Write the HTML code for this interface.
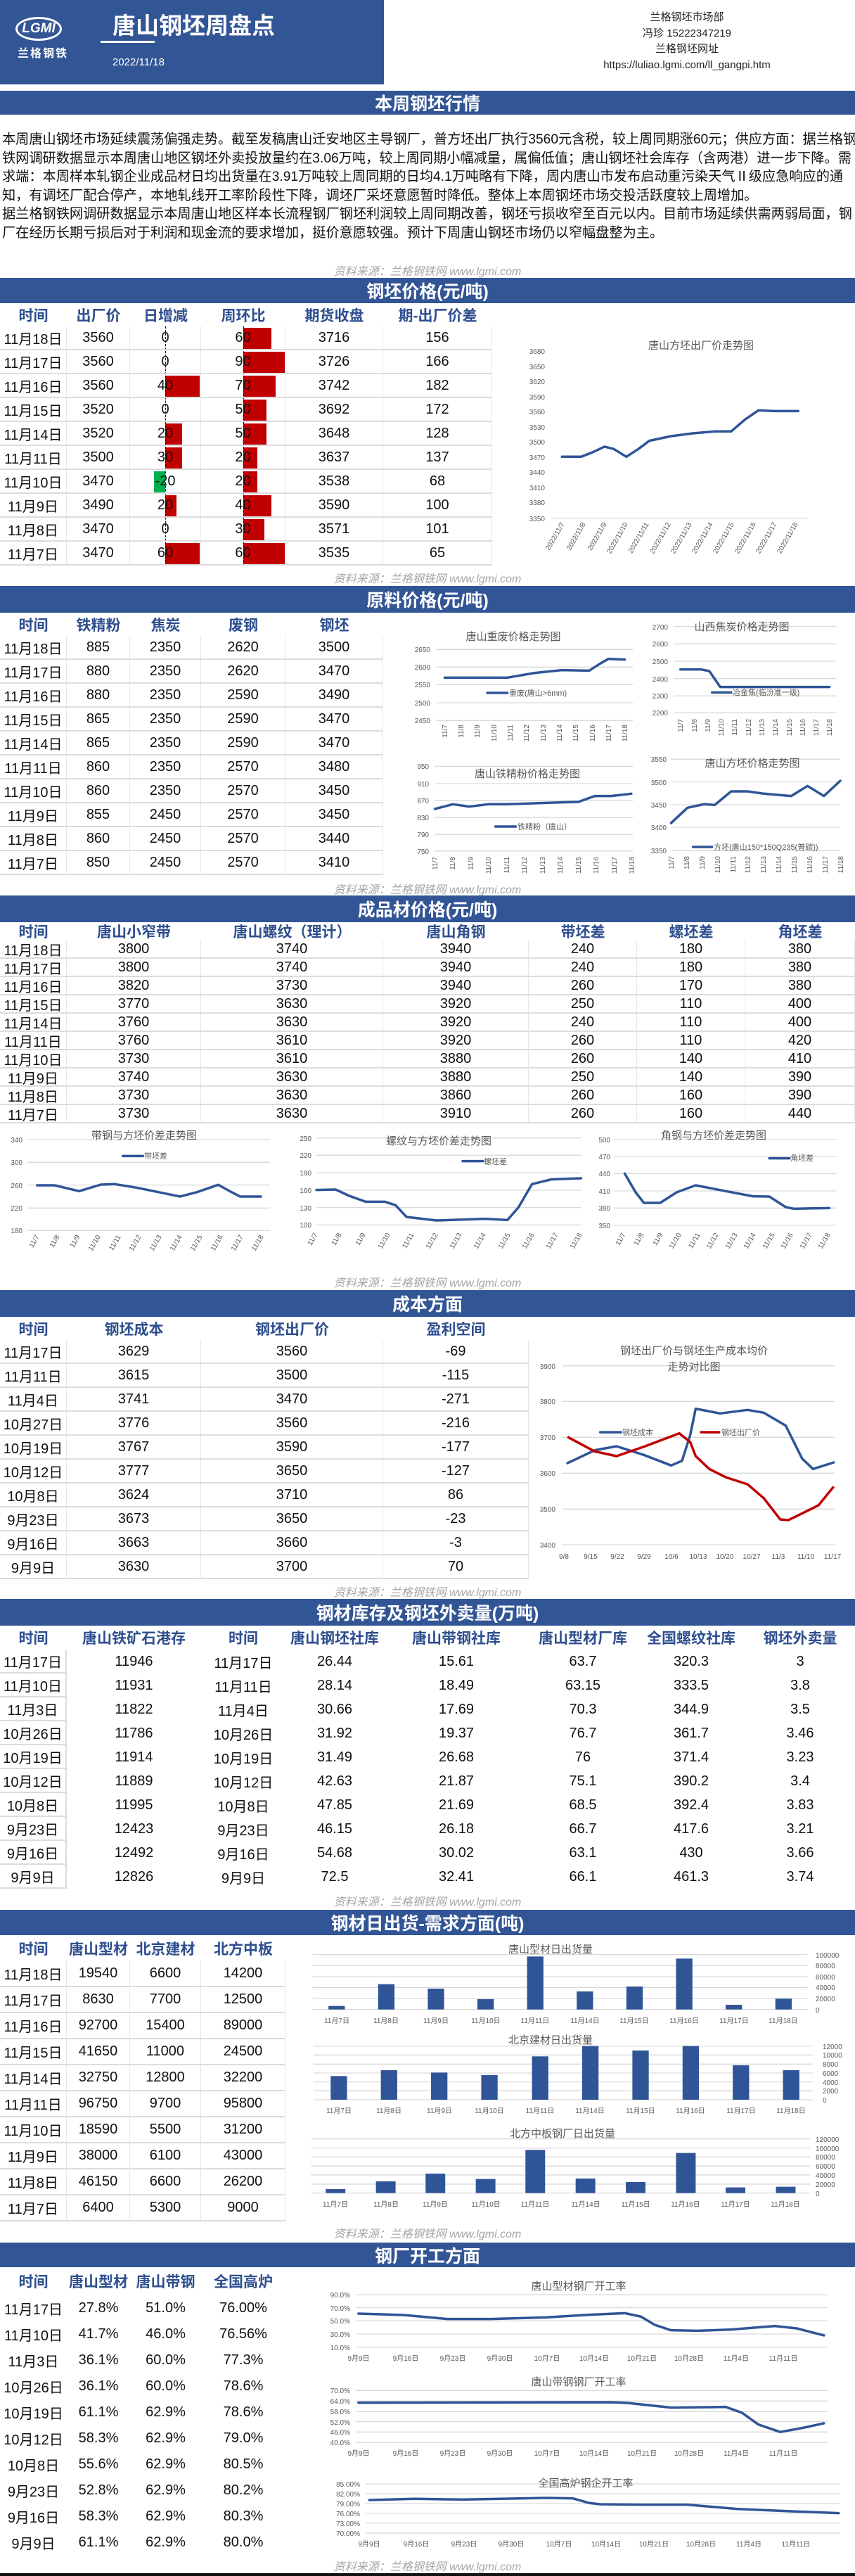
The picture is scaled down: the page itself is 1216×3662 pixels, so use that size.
<!DOCTYPE html>
<html><head><meta charset="utf-8">
<style>
*{margin:0;padding:0;box-sizing:border-box}
body{width:1216px;height:3662px;position:relative;background:#fff;font-family:"Liberation Sans","Noto Sans CJK SC",sans-serif;overflow:hidden}
.abs{position:absolute}
.bar{position:absolute;left:0;width:1216px;background:#325595;color:#fff;font-weight:bold;font-size:25px;display:flex;align-items:center;justify-content:center}
.src{position:absolute;left:0;width:1216px;text-align:center;color:#a6a6a6;font-size:16px;font-style:italic}
.t{position:absolute;display:grid}
.t div{display:flex;align-items:center;justify-content:center;font-size:20px;color:#111;white-space:nowrap}
.t div.h{color:#2F4F8F;font-weight:bold;font-size:21px}
.g div:not(.h){border-bottom:2px solid #dcdcdc;border-right:1px solid #e6e6e6}
.k div.c1{border-bottom:2px solid #dcdcdc;border-right:2px solid #dcdcdc}
.db{position:absolute;height:30px;background:#c00000}
.para{position:absolute;left:3px;top:186px;font-size:19.2px;line-height:26.6px;color:#111;white-space:nowrap}
svg text{font-family:"Liberation Sans","Noto Sans CJK SC",sans-serif;fill:#595959}
</style></head><body>

<!-- header -->
<div class="abs" style="left:0;top:0;width:546px;height:120px;background:#325595"></div>
<div class="abs" style="left:22px;top:24px;width:66px;height:34px;border:3px solid #fff;border-radius:50%;color:#fff;font-weight:bold;font-size:19px;display:flex;align-items:center;justify-content:center;font-style:italic">LGMI</div>
<div class="abs" style="left:25px;top:62px;color:#fff;font-size:16px;font-weight:bold;letter-spacing:2px">兰格钢铁</div>
<div class="abs" style="left:160px;top:10px;color:#fff;font-size:33px;font-weight:bold">唐山钢坯周盘点</div>
<div class="abs" style="left:143px;top:58px;width:77px;height:3px;background:#fff"></div>
<div class="abs" style="left:160px;top:80px;color:#fff;font-size:15px">2022/11/18</div>
<div class="abs" style="left:820px;top:14px;width:314px;text-align:center;color:#222;font-size:15px;line-height:22.5px">兰格钢坯市场部<br>冯珍 15222347219<br>兰格钢坯网址<br>https://luliao.lgmi.com/ll_gangpi.htm</div>

<div class="bar" style="top:129px;height:34px">本周钢坯行情</div>
<div class="para">本周唐山钢坯市场延续震荡偏强走势。截至发稿唐山迁安地区主导钢厂，普方坯出厂执行3560元含税，较上周同期涨60元；供应方面：据兰格钢<br>铁网调研数据显示本周唐山地区钢坯外卖投放量约在3.06万吨，较上周同期小幅减量，属偏低值；唐山钢坯社会库存（含两港）进一步下降。需<br>求端：本周样本轧钢企业成品材日均出货量在3.91万吨较上周同期的日均4.1万吨略有下降，周内唐山市发布启动重污染天气Ⅱ级应急响应的通<br>知，有调坯厂配合停产，本地轧线开工率阶段性下降，调坯厂采坯意愿暂时降低。整体上本周钢坯市场交投活跃度较上周增加。<br>据兰格钢铁网调研数据显示本周唐山地区样本长流程钢厂钢坯利润较上周同期改善，钢坯亏损收窄至百元以内。目前市场延续供需两弱局面，钢<br>厂在经历长期亏损后对于利润和现金流的要求增加，挺价意愿较强。预计下周唐山钢坯市场仍以窄幅盘整为主。</div>
<div class="src" style="top:372px">资料来源：兰格钢铁网 www.lgmi.com</div>

<!-- 钢坯价格 -->
<div class="bar" style="top:395px;height:36px">钢坯价格(元/吨)</div>
<div class="db" style="left:235px;top:534px;width:49px"></div>
<div class="db" style="left:235px;top:602px;width:24px"></div>
<div class="db" style="left:235px;top:636px;width:24px"></div>
<div class="db" style="left:219px;top:670px;width:16px;background:#00b050"></div>
<div class="db" style="left:235px;top:704px;width:16px"></div>
<div class="db" style="left:235px;top:772px;width:49px"></div>
<div class="db" style="left:346px;top:466px;width:40px"></div>
<div class="db" style="left:346px;top:500px;width:59px"></div>
<div class="db" style="left:346px;top:534px;width:46px"></div>
<div class="db" style="left:346px;top:568px;width:33px"></div>
<div class="db" style="left:346px;top:602px;width:33px"></div>
<div class="db" style="left:346px;top:636px;width:20px"></div>
<div class="db" style="left:346px;top:670px;width:20px"></div>
<div class="db" style="left:346px;top:704px;width:40px"></div>
<div class="db" style="left:346px;top:738px;width:30px"></div>
<div class="db" style="left:346px;top:772px;width:59px"></div>
<div class="abs" style="left:235px;top:464px;height:340px;border-left:1px dashed #000"></div>
<div class="abs" style="left:346px;top:464px;height:340px;border-left:1px dashed #000"></div>
<div class="t g" style="left:0;top:431px;grid-template-columns:95px 90px 101px 120px 139px 155px;grid-template-rows:33px;grid-auto-rows:34px">
<div class="h">时间</div><div class="h">出厂价</div><div class="h">日增减</div><div class="h">周环比</div><div class="h">期货收盘</div><div class="h">期-出厂价差</div>
<div>11月18日</div><div>3560</div><div>0</div><div>60</div><div>3716</div><div>156</div>
<div>11月17日</div><div>3560</div><div>0</div><div>90</div><div>3726</div><div>166</div>
<div>11月16日</div><div>3560</div><div>40</div><div>70</div><div>3742</div><div>182</div>
<div>11月15日</div><div>3520</div><div>0</div><div>50</div><div>3692</div><div>172</div>
<div>11月14日</div><div>3520</div><div>20</div><div>50</div><div>3648</div><div>128</div>
<div>11月11日</div><div>3500</div><div>30</div><div>20</div><div>3637</div><div>137</div>
<div>11月10日</div><div>3470</div><div>-20</div><div>20</div><div>3538</div><div>68</div>
<div>11月9日</div><div>3490</div><div>20</div><div>40</div><div>3590</div><div>100</div>
<div>11月8日</div><div>3470</div><div>0</div><div>30</div><div>3571</div><div>101</div>
<div>11月7日</div><div>3470</div><div>60</div><div>60</div><div>3535</div><div>65</div>
</div>
<div class="src" style="top:809px">资料来源：兰格钢铁网 www.lgmi.com</div>

<!-- 原料 -->
<div class="bar" style="top:833px;height:38px">原料价格(元/吨)</div>
<div class="t g" style="left:0;top:871px;grid-template-columns:95px 90px 101px 120px 139px;grid-template-rows:33px;grid-auto-rows:34px">
<div class="h">时间</div><div class="h">铁精粉</div><div class="h">焦炭</div><div class="h">废钢</div><div class="h">钢坯</div>
<div>11月18日</div><div>885</div><div>2350</div><div>2620</div><div>3500</div>
<div>11月17日</div><div>880</div><div>2350</div><div>2620</div><div>3470</div>
<div>11月16日</div><div>880</div><div>2350</div><div>2590</div><div>3490</div>
<div>11月15日</div><div>865</div><div>2350</div><div>2590</div><div>3470</div>
<div>11月14日</div><div>865</div><div>2350</div><div>2590</div><div>3470</div>
<div>11月11日</div><div>860</div><div>2350</div><div>2570</div><div>3480</div>
<div>11月10日</div><div>860</div><div>2350</div><div>2570</div><div>3450</div>
<div>11月9日</div><div>855</div><div>2450</div><div>2570</div><div>3450</div>
<div>11月8日</div><div>860</div><div>2450</div><div>2570</div><div>3440</div>
<div>11月7日</div><div>850</div><div>2450</div><div>2570</div><div>3410</div>
</div>
<div class="src" style="top:1251px">资料来源：兰格钢铁网 www.lgmi.com</div>

<!-- 成品材 -->
<div class="bar" style="top:1273px;height:38px">成品材价格(元/吨)</div>
<div class="t g" style="left:0;top:1311px;grid-template-columns:95px 191px 259px 207px 154px 154px 156px;grid-template-rows:26px;grid-auto-rows:26px">
<div class="h">时间</div><div class="h">唐山小窄带</div><div class="h">唐山螺纹（理计）</div><div class="h">唐山角钢</div><div class="h">带坯差</div><div class="h">螺坯差</div><div class="h">角坯差</div>
<div>11月18日</div><div>3800</div><div>3740</div><div>3940</div><div>240</div><div>180</div><div>380</div>
<div>11月17日</div><div>3800</div><div>3740</div><div>3940</div><div>240</div><div>180</div><div>380</div>
<div>11月16日</div><div>3820</div><div>3730</div><div>3940</div><div>260</div><div>170</div><div>380</div>
<div>11月15日</div><div>3770</div><div>3630</div><div>3920</div><div>250</div><div>110</div><div>400</div>
<div>11月14日</div><div>3760</div><div>3630</div><div>3920</div><div>240</div><div>110</div><div>400</div>
<div>11月11日</div><div>3760</div><div>3610</div><div>3920</div><div>260</div><div>110</div><div>420</div>
<div>11月10日</div><div>3730</div><div>3610</div><div>3880</div><div>260</div><div>140</div><div>410</div>
<div>11月9日</div><div>3740</div><div>3630</div><div>3880</div><div>250</div><div>140</div><div>390</div>
<div>11月8日</div><div>3730</div><div>3630</div><div>3860</div><div>260</div><div>160</div><div>390</div>
<div>11月7日</div><div>3730</div><div>3630</div><div>3910</div><div>260</div><div>160</div><div>440</div>
</div>
<div class="src" style="top:1810px">资料来源：兰格钢铁网 www.lgmi.com</div>

<!-- 成本 -->
<div class="bar" style="top:1834px;height:38px">成本方面</div>
<div class="t g" style="left:0;top:1872px;grid-template-columns:95px 191px 259px 207px;grid-template-rows:33px;grid-auto-rows:34px">
<div class="h">时间</div><div class="h">钢坯成本</div><div class="h">钢坯出厂价</div><div class="h">盈利空间</div>
<div>11月17日</div><div>3629</div><div>3560</div><div>-69</div>
<div>11月11日</div><div>3615</div><div>3500</div><div>-115</div>
<div>11月4日</div><div>3741</div><div>3470</div><div>-271</div>
<div>10月27日</div><div>3776</div><div>3560</div><div>-216</div>
<div>10月19日</div><div>3767</div><div>3590</div><div>-177</div>
<div>10月12日</div><div>3777</div><div>3650</div><div>-127</div>
<div>10月8日</div><div>3624</div><div>3710</div><div>86</div>
<div>9月23日</div><div>3673</div><div>3650</div><div>-23</div>
<div>9月16日</div><div>3663</div><div>3660</div><div>-3</div>
<div>9月9日</div><div>3630</div><div>3700</div><div>70</div>
</div>
<div class="src" style="top:2250px">资料来源：兰格钢铁网 www.lgmi.com</div>

<!-- 库存 -->
<div class="bar" style="top:2273px;height:38px">钢材库存及钢坯外卖量(万吨)</div>
<div class="t k" style="left:0;top:2311px;grid-template-columns:95px 191px 120px 140px 206px 154px 154px 156px;grid-template-rows:34px;grid-auto-rows:34px">
<div class="h">时间</div><div class="h">唐山铁矿石港存</div><div class="h">时间</div><div class="h">唐山钢坯社库</div><div class="h">唐山带钢社库</div><div class="h">唐山型材厂库</div><div class="h">全国螺纹社库</div><div class="h">钢坯外卖量</div>
<div class="c1">11月17日</div><div>11946</div><div>11月17日</div><div>26.44</div><div>15.61</div><div>63.7</div><div>320.3</div><div>3</div>
<div class="c1">11月10日</div><div>11931</div><div>11月11日</div><div>28.14</div><div>18.49</div><div>63.15</div><div>333.5</div><div>3.8</div>
<div class="c1">11月3日</div><div>11822</div><div>11月4日</div><div>30.66</div><div>17.69</div><div>70.3</div><div>344.9</div><div>3.5</div>
<div class="c1">10月26日</div><div>11786</div><div>10月26日</div><div>31.92</div><div>19.37</div><div>76.7</div><div>361.7</div><div>3.46</div>
<div class="c1">10月19日</div><div>11914</div><div>10月19日</div><div>31.49</div><div>26.68</div><div>76</div><div>371.4</div><div>3.23</div>
<div class="c1">10月12日</div><div>11889</div><div>10月12日</div><div>42.63</div><div>21.87</div><div>75.1</div><div>390.2</div><div>3.4</div>
<div class="c1">10月8日</div><div>11995</div><div>10月8日</div><div>47.85</div><div>21.69</div><div>68.5</div><div>392.4</div><div>3.83</div>
<div class="c1">9月23日</div><div>12423</div><div>9月23日</div><div>46.15</div><div>26.18</div><div>66.7</div><div>417.6</div><div>3.21</div>
<div class="c1">9月16日</div><div>12492</div><div>9月16日</div><div>54.68</div><div>30.02</div><div>63.1</div><div>430</div><div>3.66</div>
<div class="c1">9月9日</div><div>12826</div><div>9月9日</div><div>72.5</div><div>32.41</div><div>66.1</div><div>461.3</div><div>3.74</div>
</div>
<div class="src" style="top:2690px">资料来源：兰格钢铁网 www.lgmi.com</div>

<!-- 日出货 -->
<div class="bar" style="top:2715px;height:36px">钢材日出货-需求方面(吨)</div>
<div class="t g" style="left:0;top:2751px;grid-template-columns:95px 90px 101px 120px;grid-template-rows:37px;grid-auto-rows:37px">
<div class="h">时间</div><div class="h">唐山型材</div><div class="h">北京建材</div><div class="h">北方中板</div>
<div>11月18日</div><div>19540</div><div>6600</div><div>14200</div>
<div>11月17日</div><div>8630</div><div>7700</div><div>12500</div>
<div>11月16日</div><div>92700</div><div>15400</div><div>89000</div>
<div>11月15日</div><div>41650</div><div>11000</div><div>24500</div>
<div>11月14日</div><div>32750</div><div>12800</div><div>32200</div>
<div>11月11日</div><div>96750</div><div>9700</div><div>95800</div>
<div>11月10日</div><div>18590</div><div>5500</div><div>31200</div>
<div>11月9日</div><div>38000</div><div>6100</div><div>43000</div>
<div>11月8日</div><div>46150</div><div>6600</div><div>26200</div>
<div>11月7日</div><div>6400</div><div>5300</div><div>9000</div>
</div>
<div class="src" style="top:3162px">资料来源：兰格钢铁网 www.lgmi.com</div>

<!-- 开工 -->
<div class="bar" style="top:3188px;height:35px">钢厂开工方面</div>
<div class="t" style="left:0;top:3223px;grid-template-columns:95px 90px 101px 120px;grid-template-rows:40px;grid-auto-rows:37px">
<div class="h">时间</div><div class="h">唐山型材</div><div class="h">唐山带钢</div><div class="h">全国高炉</div>
<div>11月17日</div><div>27.8%</div><div>51.0%</div><div>76.00%</div>
<div>11月10日</div><div>41.7%</div><div>46.0%</div><div>76.56%</div>
<div>11月3日</div><div>36.1%</div><div>60.0%</div><div>77.3%</div>
<div>10月26日</div><div>36.1%</div><div>60.0%</div><div>78.6%</div>
<div>10月19日</div><div>61.1%</div><div>62.9%</div><div>78.6%</div>
<div>10月12日</div><div>58.3%</div><div>62.9%</div><div>79.0%</div>
<div>10月8日</div><div>55.6%</div><div>62.9%</div><div>80.5%</div>
<div>9月23日</div><div>52.8%</div><div>62.9%</div><div>80.2%</div>
<div>9月16日</div><div>58.3%</div><div>62.9%</div><div>80.3%</div>
<div>9月9日</div><div>61.1%</div><div>62.9%</div><div>80.0%</div>
</div>
<div class="src" style="top:3635px">资料来源：兰格钢铁网 www.lgmi.com</div>

<svg class="abs" style="left:0;top:0" width="1216" height="3662">
<defs><style>
.gl{stroke:#d9d9d9;stroke-width:1.3;vector-effect:non-scaling-stroke}
.ln{fill:none;stroke:#2F5597;stroke-width:3.5;stroke-linejoin:round;stroke-linecap:round;vector-effect:non-scaling-stroke}
.rd{fill:none;stroke:#c00000;stroke-width:3.5;stroke-linejoin:round;vector-effect:non-scaling-stroke}
.bb{fill:#2F5597}
.ax{font-size:10px}
.tt{font-size:15px}
.lg{font-size:11px}
</style></defs>

<!-- chart 1 -->
<g transform="translate(0,400) scale(0.776,0.3333)">
<line class="gl" x1="1010" y1="1010" x2="1480" y2="1010"/>
<polyline class="ln" points="1030,748 1065,748 1085,730 1108,705 1125,715 1148,748 1170,715 1190,680 1230,660 1270,648 1310,640 1340,640 1365,590 1390,550 1420,553 1463,553"/>
</g>
<text class="tt" x="997" y="496" text-anchor="middle" font-size="16">唐山方坯出厂价走势图</text>
<g class="ax" text-anchor="end">
<text x="775" y="503">3680</text><text x="775" y="525">3650</text><text x="775" y="546">3620</text><text x="775" y="568">3590</text><text x="775" y="589">3560</text><text x="775" y="611">3530</text><text x="775" y="632">3500</text><text x="775" y="654">3470</text><text x="775" y="675">3440</text><text x="775" y="697">3410</text><text x="775" y="718">3380</text><text x="775" y="741">3350</text>
<text transform="translate(803,745) rotate(-60)">2022/11/7</text><text transform="translate(833,745) rotate(-60)">2022/11/8</text><text transform="translate(863,745) rotate(-60)">2022/11/9</text><text transform="translate(893,745) rotate(-60)">2022/11/10</text><text transform="translate(923,745) rotate(-60)">2022/11/11</text><text transform="translate(954,745) rotate(-60)">2022/11/12</text><text transform="translate(984,745) rotate(-60)">2022/11/13</text><text transform="translate(1014,745) rotate(-60)">2022/11/14</text><text transform="translate(1044,745) rotate(-60)">2022/11/15</text><text transform="translate(1075,745) rotate(-60)">2022/11/16</text><text transform="translate(1105,745) rotate(-60)">2022/11/17</text><text transform="translate(1135,745) rotate(-60)">2022/11/18</text>
</g>

<!-- raw material charts -->
<g transform="translate(0,830) scale(0.776,0.3333)">
<line class="gl" x1="800" y1="280" x2="1160" y2="280"/><line class="gl" x1="800" y1="355" x2="1160" y2="355"/><line class="gl" x1="800" y1="430" x2="1160" y2="430"/><line class="gl" x1="800" y1="507" x2="1160" y2="507"/><line class="gl" x1="800" y1="583" x2="1160" y2="583"/>
<polyline class="ln" points="815,400 910,400 930,400 980,380 1030,368 1080,370 1100,340 1115,320 1145,323"/>
<line class="ln" x1="893" y1="465" x2="930" y2="465"/>
<line class="gl" x1="1235" y1="182" x2="1533" y2="182"/><line class="gl" x1="1235" y1="256" x2="1533" y2="256"/><line class="gl" x1="1235" y1="330" x2="1533" y2="330"/><line class="gl" x1="1235" y1="404" x2="1533" y2="404"/><line class="gl" x1="1235" y1="478" x2="1533" y2="478"/><line class="gl" x1="1235" y1="550" x2="1533" y2="550"/>
<polyline class="ln" points="1247,365 1285,365 1300,372 1320,440 1340,440 1520,440"/>
<line class="ln" x1="1305" y1="463" x2="1340" y2="463"/>
<line class="gl" x1="797" y1="778" x2="1160" y2="778"/><line class="gl" x1="797" y1="852" x2="1160" y2="852"/><line class="gl" x1="797" y1="925" x2="1160" y2="925"/><line class="gl" x1="797" y1="997" x2="1160" y2="997"/><line class="gl" x1="797" y1="1069" x2="1160" y2="1069"/><line class="gl" x1="797" y1="1140" x2="1160" y2="1140"/>
<polyline class="ln" points="797,960 830,940 860,950 895,940 930,940 1030,932 1060,930 1090,905 1120,905 1157,895"/>
<line class="ln" x1="908" y1="1035" x2="945" y2="1035"/>
<line class="gl" x1="1230" y1="748" x2="1540" y2="748"/><line class="gl" x1="1230" y1="845" x2="1540" y2="845"/><line class="gl" x1="1230" y1="942" x2="1540" y2="942"/><line class="gl" x1="1230" y1="1038" x2="1540" y2="1038"/><line class="gl" x1="1230" y1="1138" x2="1540" y2="1138"/>
<polyline class="ln" points="1230,1020 1260,955 1290,940 1310,943 1340,885 1370,885 1400,895 1450,905 1480,862 1510,905 1540,840"/>
<line class="ln" x1="1270" y1="1122" x2="1305" y2="1122"/>
</g>
<text class="tt" x="730" y="910" text-anchor="middle">唐山重废价格走势图</text>
<text class="tt" x="1055" y="896" text-anchor="middle">山西焦炭价格走势图</text>
<text class="tt" x="750" y="1105" text-anchor="middle">唐山铁精粉价格走势图</text>
<text class="tt" x="1070" y="1090" text-anchor="middle">唐山方坯价格走势图</text>
<text class="lg" x="724" y="989">重废(唐山&gt;6mm)</text>
<text class="lg" x="1042" y="988">冶金焦(临汾准一级)</text>
<text class="lg" x="736" y="1179">铁精粉（唐山）</text>
<text class="lg" x="1015" y="1208">方坯(唐山150*150Q235(普碳))</text>
<g class="ax" text-anchor="end">
<text x="612" y="927">2650</text><text x="612" y="952">2600</text><text x="612" y="977">2550</text><text x="612" y="1003">2500</text><text x="612" y="1028">2450</text>
<text x="950" y="895">2700</text><text x="950" y="919">2600</text><text x="950" y="944">2500</text><text x="950" y="969">2400</text><text x="950" y="993">2300</text><text x="950" y="1017">2200</text>
<text x="610" y="1093">950</text><text x="610" y="1118">910</text><text x="610" y="1142">870</text><text x="610" y="1166">830</text><text x="610" y="1190">790</text><text x="610" y="1214">750</text>
<text x="948" y="1083">3550</text><text x="948" y="1116">3500</text><text x="948" y="1148">3450</text><text x="948" y="1180">3400</text><text x="948" y="1213">3350</text>
<text transform="translate(636,1030) rotate(-90)">11/7</text><text transform="translate(659,1030) rotate(-90)">11/8</text><text transform="translate(682,1030) rotate(-90)">11/9</text><text transform="translate(706,1030) rotate(-90)">11/10</text><text transform="translate(729,1030) rotate(-90)">11/11</text><text transform="translate(752,1030) rotate(-90)">11/12</text><text transform="translate(776,1030) rotate(-90)">11/13</text><text transform="translate(799,1030) rotate(-90)">11/14</text><text transform="translate(822,1030) rotate(-90)">11/15</text><text transform="translate(846,1030) rotate(-90)">11/16</text><text transform="translate(869,1030) rotate(-90)">11/17</text><text transform="translate(892,1030) rotate(-90)">11/18</text>
<text transform="translate(971,1022) rotate(-90)">11/7</text><text transform="translate(991,1022) rotate(-90)">11/8</text><text transform="translate(1010,1022) rotate(-90)">11/9</text><text transform="translate(1029,1022) rotate(-90)">11/10</text><text transform="translate(1048,1022) rotate(-90)">11/11</text><text transform="translate(1068,1022) rotate(-90)">11/12</text><text transform="translate(1087,1022) rotate(-90)">11/13</text><text transform="translate(1106,1022) rotate(-90)">11/14</text><text transform="translate(1126,1022) rotate(-90)">11/15</text><text transform="translate(1145,1022) rotate(-90)">11/16</text><text transform="translate(1164,1022) rotate(-90)">11/17</text><text transform="translate(1183,1022) rotate(-90)">11/18</text>
<text transform="translate(622,1218) rotate(-90)">11/7</text><text transform="translate(647,1218) rotate(-90)">11/8</text><text transform="translate(673,1218) rotate(-90)">11/9</text><text transform="translate(698,1218) rotate(-90)">11/10</text><text transform="translate(724,1218) rotate(-90)">11/11</text><text transform="translate(749,1218) rotate(-90)">11/12</text><text transform="translate(775,1218) rotate(-90)">11/13</text><text transform="translate(800,1218) rotate(-90)">11/14</text><text transform="translate(826,1218) rotate(-90)">11/15</text><text transform="translate(851,1218) rotate(-90)">11/16</text><text transform="translate(877,1218) rotate(-90)">11/17</text><text transform="translate(902,1218) rotate(-90)">11/18</text>
<text transform="translate(958,1217) rotate(-90)">11/7</text><text transform="translate(980,1217) rotate(-90)">11/8</text><text transform="translate(1002,1217) rotate(-90)">11/9</text><text transform="translate(1024,1217) rotate(-90)">11/10</text><text transform="translate(1046,1217) rotate(-90)">11/11</text><text transform="translate(1067,1217) rotate(-90)">11/12</text><text transform="translate(1089,1217) rotate(-90)">11/13</text><text transform="translate(1111,1217) rotate(-90)">11/14</text><text transform="translate(1133,1217) rotate(-90)">11/15</text><text transform="translate(1155,1217) rotate(-90)">11/16</text><text transform="translate(1177,1217) rotate(-90)">11/17</text><text transform="translate(1199,1217) rotate(-90)">11/18</text>
</g>

<!-- spread charts -->
<g transform="translate(0,1600) scale(0.776,0.3333)">
<line class="gl" x1="50" y1="60" x2="495" y2="60"/><line class="gl" x1="50" y1="157" x2="495" y2="157"/><line class="gl" x1="50" y1="254" x2="495" y2="254"/><line class="gl" x1="50" y1="352" x2="495" y2="352"/><line class="gl" x1="50" y1="448" x2="495" y2="448"/>
<polyline class="ln" points="68,255 100,255 145,280 185,252 210,250 250,265 330,303 360,285 400,253 425,285 440,303 478,303"/>
<line class="ln" x1="225" y1="130" x2="262" y2="130"/>
<line class="gl" x1="580" y1="53" x2="1065" y2="53"/><line class="gl" x1="580" y1="127" x2="1065" y2="127"/><line class="gl" x1="580" y1="202" x2="1065" y2="202"/><line class="gl" x1="580" y1="276" x2="1065" y2="276"/><line class="gl" x1="580" y1="350" x2="1065" y2="350"/><line class="gl" x1="580" y1="424" x2="1065" y2="424"/>
<polyline class="ln" points="580,275 615,273 640,300 670,325 705,325 725,340 745,390 800,405 890,398 930,403 950,350 975,250 1010,230 1065,225"/>
<line class="ln" x1="848" y1="152" x2="885" y2="152"/>
<line class="gl" x1="1125" y1="60" x2="1533" y2="60"/><line class="gl" x1="1125" y1="132" x2="1533" y2="132"/><line class="gl" x1="1125" y1="205" x2="1533" y2="205"/><line class="gl" x1="1125" y1="279" x2="1533" y2="279"/><line class="gl" x1="1125" y1="352" x2="1533" y2="352"/><line class="gl" x1="1125" y1="425" x2="1533" y2="425"/>
<polyline class="ln" points="1145,205 1165,285 1180,330 1210,330 1240,285 1275,255 1330,280 1380,302 1410,303 1440,348 1455,355 1520,352"/>
<line class="ln" x1="1410" y1="140" x2="1447" y2="140"/>
</g>
<text class="tt" x="205" y="1619" text-anchor="middle">带钢与方坯价差走势图</text>
<text class="tt" x="624" y="1627" text-anchor="middle">螺纹与方坯价差走势图</text>
<text class="tt" x="1015" y="1619" text-anchor="middle">角钢与方坯价差走势图</text>
<text class="lg" x="205" y="1647">带坯差</text>
<text class="lg" x="688" y="1655">螺坯差</text>
<text class="lg" x="1124" y="1650">角坯差</text>
<g class="ax" text-anchor="end">
<text x="32" y="1624">340</text><text x="32" y="1656">300</text><text x="32" y="1689">260</text><text x="32" y="1721">220</text><text x="32" y="1753">180</text>
<text x="443" y="1622">250</text><text x="443" y="1646">220</text><text x="443" y="1671">190</text><text x="443" y="1696">160</text><text x="443" y="1721">130</text><text x="443" y="1745">100</text>
<text x="868" y="1624">500</text><text x="868" y="1648">470</text><text x="868" y="1672">440</text><text x="868" y="1697">410</text><text x="868" y="1721">380</text><text x="868" y="1746">350</text>
<text transform="translate(56,1758) rotate(-60)">11/7</text><text transform="translate(85,1758) rotate(-60)">11/8</text><text transform="translate(114,1758) rotate(-60)">11/9</text><text transform="translate(143,1758) rotate(-60)">11/10</text><text transform="translate(172,1758) rotate(-60)">11/11</text><text transform="translate(201,1758) rotate(-60)">11/12</text><text transform="translate(230,1758) rotate(-60)">11/13</text><text transform="translate(259,1758) rotate(-60)">11/14</text><text transform="translate(288,1758) rotate(-60)">11/15</text><text transform="translate(317,1758) rotate(-60)">11/16</text><text transform="translate(346,1758) rotate(-60)">11/17</text><text transform="translate(375,1758) rotate(-60)">11/18</text>
<text transform="translate(452,1755) rotate(-60)">11/7</text><text transform="translate(486,1755) rotate(-60)">11/8</text><text transform="translate(520,1755) rotate(-60)">11/9</text><text transform="translate(555,1755) rotate(-60)">11/10</text><text transform="translate(589,1755) rotate(-60)">11/11</text><text transform="translate(623,1755) rotate(-60)">11/12</text><text transform="translate(657,1755) rotate(-60)">11/13</text><text transform="translate(691,1755) rotate(-60)">11/14</text><text transform="translate(726,1755) rotate(-60)">11/15</text><text transform="translate(760,1755) rotate(-60)">11/16</text><text transform="translate(794,1755) rotate(-60)">11/17</text><text transform="translate(828,1755) rotate(-60)">11/18</text>
<text transform="translate(890,1755) rotate(-60)">11/7</text><text transform="translate(916,1755) rotate(-60)">11/8</text><text transform="translate(943,1755) rotate(-60)">11/9</text><text transform="translate(969,1755) rotate(-60)">11/10</text><text transform="translate(996,1755) rotate(-60)">11/11</text><text transform="translate(1022,1755) rotate(-60)">11/12</text><text transform="translate(1049,1755) rotate(-60)">11/13</text><text transform="translate(1075,1755) rotate(-60)">11/14</text><text transform="translate(1102,1755) rotate(-60)">11/15</text><text transform="translate(1128,1755) rotate(-60)">11/16</text><text transform="translate(1155,1755) rotate(-60)">11/17</text><text transform="translate(1181,1755) rotate(-60)">11/18</text>
</g>

<!-- cost chart -->
<g transform="translate(0,1900) scale(0.776,0.3333)">
<line class="gl" x1="1030" y1="125" x2="1530" y2="125"/><line class="gl" x1="1030" y1="277" x2="1530" y2="277"/><line class="gl" x1="1030" y1="430" x2="1530" y2="430"/><line class="gl" x1="1030" y1="583" x2="1530" y2="583"/><line class="gl" x1="1030" y1="736" x2="1530" y2="736"/><line class="gl" x1="1030" y1="888" x2="1530" y2="888"/>
<polyline class="ln" points="1040,540 1090,485 1130,468 1180,505 1230,550 1250,530 1265,420 1275,308 1320,328 1370,313 1400,325 1440,380 1470,520 1490,565 1528,537"/>
<polyline class="rd" points="1040,428 1090,490 1130,510 1180,470 1245,413 1265,450 1275,510 1300,565 1330,600 1370,630 1400,690 1430,780 1445,783 1500,720 1528,640"/>
<line class="ln" x1="1100" y1="408" x2="1138" y2="408"/>
<line class="rd" x1="1283" y1="408" x2="1320" y2="408"/>
</g>
<text class="tt" x="987" y="1925" text-anchor="middle">钢坯出厂价与钢坯生产成本均价</text>
<text class="tt" x="987" y="1948" text-anchor="middle">走势对比图</text>
<text class="lg" x="885" y="2040">钢坯成本</text>
<text class="lg" x="1026" y="2040">钢坯出厂价</text>
<g class="ax">
<g text-anchor="end"><text x="790" y="1946">3900</text><text x="790" y="1996">3800</text><text x="790" y="2047">3700</text><text x="790" y="2098">3600</text><text x="790" y="2149">3500</text><text x="790" y="2200">3400</text></g>
<g text-anchor="middle"><text x="802" y="2216">9/8</text><text x="840" y="2216">9/15</text><text x="878" y="2216">9/22</text><text x="916" y="2216">9/29</text><text x="955" y="2216">10/6</text><text x="993" y="2216">10/13</text><text x="1031" y="2216">10/20</text><text x="1069" y="2216">10/27</text><text x="1107" y="2216">11/3</text><text x="1146" y="2216">11/10</text><text x="1184" y="2216">11/17</text></g>
</g>

<!-- shipment charts -->
<g transform="translate(0,2700) scale(0.776,0.3333)">
<line class="gl" x1="573" y1="236" x2="1480" y2="236"/><line class="gl" x1="573" y1="283" x2="1480" y2="283"/><line class="gl" x1="573" y1="330" x2="1480" y2="330"/><line class="gl" x1="573" y1="376" x2="1480" y2="376"/><line class="gl" x1="573" y1="423" x2="1480" y2="423"/><line class="gl" x1="573" y1="470" x2="1480" y2="470"/>
<rect class="bb" x="602" y="455" width="30" height="15"/><rect class="bb" x="693" y="362" width="30" height="108"/><rect class="bb" x="784" y="381" width="30" height="89"/><rect class="bb" x="875" y="426" width="30" height="44"/><rect class="bb" x="966" y="244" width="30" height="226"/><rect class="bb" x="1057" y="393" width="30" height="77"/><rect class="bb" x="1148" y="372" width="30" height="98"/><rect class="bb" x="1239" y="253" width="30" height="217"/><rect class="bb" x="1330" y="450" width="30" height="20"/><rect class="bb" x="1421" y="424" width="30" height="46"/>
<line class="gl" x1="575" y1="626" x2="1490" y2="626"/><line class="gl" x1="575" y1="664" x2="1490" y2="664"/><line class="gl" x1="575" y1="703" x2="1490" y2="703"/><line class="gl" x1="575" y1="741" x2="1490" y2="741"/><line class="gl" x1="575" y1="779" x2="1490" y2="779"/><line class="gl" x1="575" y1="817" x2="1490" y2="817"/><line class="gl" x1="575" y1="855" x2="1490" y2="855"/>
<rect class="bb" x="606" y="754" width="30" height="101"/><rect class="bb" x="698" y="729" width="30" height="126"/><rect class="bb" x="790" y="739" width="30" height="116"/><rect class="bb" x="882" y="750" width="30" height="105"/><rect class="bb" x="975" y="670" width="30" height="185"/><rect class="bb" x="1067" y="626" width="30" height="229"/><rect class="bb" x="1159" y="645" width="30" height="210"/><rect class="bb" x="1251" y="626" width="30" height="229"/><rect class="bb" x="1343" y="708" width="30" height="147"/><rect class="bb" x="1435" y="729" width="30" height="126"/>
<line class="gl" x1="570" y1="1022" x2="1485" y2="1022"/><line class="gl" x1="570" y1="1061" x2="1485" y2="1061"/><line class="gl" x1="570" y1="1099" x2="1485" y2="1099"/><line class="gl" x1="570" y1="1138" x2="1485" y2="1138"/><line class="gl" x1="570" y1="1176" x2="1485" y2="1176"/><line class="gl" x1="570" y1="1215" x2="1485" y2="1215"/><line class="gl" x1="570" y1="1253" x2="1485" y2="1253"/>
<rect class="bb" x="597" y="1236" width="36" height="17"/><rect class="bb" x="689" y="1203" width="36" height="50"/><rect class="bb" x="780" y="1170" width="36" height="83"/><rect class="bb" x="872" y="1193" width="36" height="60"/><rect class="bb" x="963" y="1069" width="36" height="184"/><rect class="bb" x="1055" y="1191" width="36" height="62"/><rect class="bb" x="1147" y="1206" width="36" height="47"/><rect class="bb" x="1239" y="1082" width="36" height="171"/><rect class="bb" x="1330" y="1229" width="36" height="24"/><rect class="bb" x="1422" y="1226" width="36" height="27"/>
</g>
<text class="tt" x="783" y="2776" text-anchor="middle">唐山型材日出货量</text>
<text class="tt" x="783" y="2905" text-anchor="middle">北京建材日出货量</text>
<text class="tt" x="800" y="3038" text-anchor="middle">北方中板钢厂日出货量</text>
<g class="ax">
<text x="1160" y="2783">100000</text><text x="1160" y="2798">80000</text><text x="1160" y="2814">60000</text><text x="1160" y="2829">40000</text><text x="1160" y="2845">20000</text><text x="1160" y="2861">0</text>
<text x="1170" y="2913">12000</text><text x="1170" y="2925">10000</text><text x="1170" y="2938">8000</text><text x="1170" y="2951">6000</text><text x="1170" y="2964">4000</text><text x="1170" y="2976">2000</text><text x="1170" y="2989">0</text>
<text x="1160" y="3045">120000</text><text x="1160" y="3058">100000</text><text x="1160" y="3070">80000</text><text x="1160" y="3083">60000</text><text x="1160" y="3096">40000</text><text x="1160" y="3109">20000</text><text x="1160" y="3122">0</text>
<g text-anchor="middle">
<text x="479" y="2876">11月7日</text><text x="549" y="2876">11月8日</text><text x="620" y="2876">11月9日</text><text x="691" y="2876">11月10日</text><text x="761" y="2876">11月11日</text><text x="832" y="2876">11月14日</text><text x="902" y="2876">11月15日</text><text x="973" y="2876">11月16日</text><text x="1044" y="2876">11月17日</text><text x="1114" y="2876">11月18日</text>
<text x="482" y="3004">11月7日</text><text x="553" y="3004">11月8日</text><text x="625" y="3004">11月9日</text><text x="696" y="3004">11月10日</text><text x="768" y="3004">11月11日</text><text x="839" y="3004">11月14日</text><text x="911" y="3004">11月15日</text><text x="982" y="3004">11月16日</text><text x="1054" y="3004">11月17日</text><text x="1125" y="3004">11月18日</text>
<text x="477" y="3137">11月7日</text><text x="549" y="3137">11月8日</text><text x="619" y="3137">11月9日</text><text x="691" y="3137">11月10日</text><text x="761" y="3137">11月11日</text><text x="833" y="3137">11月14日</text><text x="904" y="3137">11月15日</text><text x="975" y="3137">11月16日</text><text x="1046" y="3137">11月17日</text><text x="1117" y="3137">11月18日</text>
</g></g>

<!-- utilization charts -->
<g transform="translate(0,3210) scale(0.776,0.3333)">
<line class="gl" x1="652" y1="157" x2="1517" y2="157"/><line class="gl" x1="652" y1="212" x2="1517" y2="212"/><line class="gl" x1="652" y1="268" x2="1517" y2="268"/><line class="gl" x1="652" y1="324" x2="1517" y2="324"/><line class="gl" x1="652" y1="380" x2="1517" y2="380"/>
<polyline class="ln" points="657,237 740,243 820,260 900,260 1000,253 1080,242 1145,235 1175,250 1200,285 1230,308 1280,310 1340,305 1420,290 1460,300 1510,330"/>
<line class="gl" x1="652" y1="565" x2="1517" y2="565"/><line class="gl" x1="652" y1="610" x2="1517" y2="610"/><line class="gl" x1="652" y1="655" x2="1517" y2="655"/><line class="gl" x1="652" y1="698" x2="1517" y2="698"/><line class="gl" x1="652" y1="742" x2="1517" y2="742"/><line class="gl" x1="652" y1="787" x2="1517" y2="787"/>
<polyline class="ln" points="657,617 1120,615 1150,618 1230,638 1330,635 1360,660 1390,710 1430,742 1470,725 1510,705"/>
<line class="gl" x1="670" y1="963" x2="1540" y2="963"/><line class="gl" x1="670" y1="1005" x2="1540" y2="1005"/><line class="gl" x1="670" y1="1047" x2="1540" y2="1047"/><line class="gl" x1="670" y1="1088" x2="1540" y2="1088"/><line class="gl" x1="670" y1="1130" x2="1540" y2="1130"/><line class="gl" x1="670" y1="1173" x2="1540" y2="1173"/>
<polyline class="ln" points="677,1032 760,1027 850,1030 1000,1023 1050,1025 1080,1045 1100,1050 1180,1052 1260,1052 1350,1070 1450,1080 1537,1088"/>
</g>
<text class="tt" x="823" y="3255" text-anchor="middle">唐山型材钢厂开工率</text>
<text class="tt" x="823" y="3391" text-anchor="middle">唐山带钢钢厂开工率</text>
<text class="tt" x="833" y="3535" text-anchor="middle">全国高炉钢企开工率</text>
<g class="ax">
<g text-anchor="end">
<text x="498" y="3266">90.0%</text><text x="498" y="3285">70.0%</text><text x="498" y="3303">50.0%</text><text x="498" y="3322">30.0%</text><text x="498" y="3341">10.0%</text>
<text x="498" y="3402">70.0%</text><text x="498" y="3417">64.0%</text><text x="498" y="3432">58.0%</text><text x="498" y="3447">52.0%</text><text x="498" y="3461">46.0%</text><text x="498" y="3476">40.0%</text>
<text x="512" y="3535">85.00%</text><text x="512" y="3549">82.00%</text><text x="512" y="3563">79.00%</text><text x="512" y="3577">76.00%</text><text x="512" y="3591">73.00%</text><text x="512" y="3605">70.00%</text>
</g>
<g text-anchor="middle">
<text x="510" y="3356">9月9日</text><text x="577" y="3356">9月16日</text><text x="644" y="3356">9月23日</text><text x="711" y="3356">9月30日</text><text x="778" y="3356">10月7日</text><text x="845" y="3356">10月14日</text><text x="913" y="3356">10月21日</text><text x="980" y="3356">10月28日</text><text x="1047" y="3356">11月4日</text><text x="1114" y="3356">11月11日</text>
<text x="510" y="3491">9月9日</text><text x="577" y="3491">9月16日</text><text x="644" y="3491">9月23日</text><text x="711" y="3491">9月30日</text><text x="778" y="3491">10月7日</text><text x="845" y="3491">10月14日</text><text x="913" y="3491">10月21日</text><text x="980" y="3491">10月28日</text><text x="1047" y="3491">11月4日</text><text x="1114" y="3491">11月11日</text>
<text x="525" y="3620">9月9日</text><text x="592" y="3620">9月16日</text><text x="660" y="3620">9月23日</text><text x="727" y="3620">9月30日</text><text x="795" y="3620">10月7日</text><text x="862" y="3620">10月14日</text><text x="930" y="3620">10月21日</text><text x="997" y="3620">10月28日</text><text x="1065" y="3620">11月4日</text><text x="1132" y="3620">11月11日</text>
</g></g>
</svg>
<div class="abs" style="left:0;top:3658px;width:1216px;height:4px;background:#111"></div>
</body></html>
